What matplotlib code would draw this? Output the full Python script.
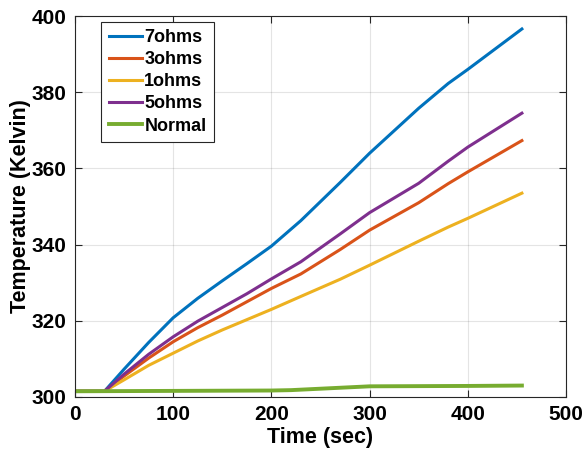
import numpy as np
import matplotlib
matplotlib.use('Agg')
import matplotlib.pyplot as plt

plt.rcParams['font.family'] = ['Liberation Sans', 'DejaVu Sans']
plt.rcParams['font.weight'] = 'bold'

# temperature readings (Kelvin) against time (sec)
t = [0, 30, 50, 75, 100, 125, 150, 175, 200, 230, 270, 300, 350, 380, 400, 455]
T_7ohms = [301.5, 301.5, 307.3, 314.3, 320.8, 325.9, 330.5, 335.0, 339.6, 346.3, 356.3, 364.0, 375.8, 382.3, 386.0, 396.6]
T_3ohms = [301.5, 301.5, 305.5, 310.2, 314.5, 318.2, 321.5, 325.0, 328.5, 332.3, 338.7, 343.8, 351.0, 356.0, 359.1, 367.3]
T_1ohms = [301.5, 301.5, 304.5, 308.3, 311.5, 314.7, 317.6, 320.3, 323.0, 326.4, 330.9, 334.6, 340.9, 344.6, 346.9, 353.5]
T_5ohms = [301.5, 301.5, 306.0, 311.2, 315.8, 319.9, 323.5, 327.1, 331.0, 335.5, 342.8, 348.4, 356.1, 361.9, 365.6, 374.5]
t_normal = [0, 100, 200, 220, 260, 300, 400, 455]
T_normal = [301.5, 301.6, 301.7, 301.8, 302.3, 302.8, 302.9, 303.0]

fig = plt.figure(figsize=(5.83, 4.55), dpi=100)
ax = fig.add_axes([0.1286, 0.1275, 0.8424, 0.8373])

lw = 2.2
ax.plot(t, T_7ohms, color='#0072BD', lw=lw, label='7ohms')
ax.plot(t, T_3ohms, color='#D95319', lw=lw, label='3ohms')
ax.plot(t, T_1ohms, color='#EDB120', lw=lw, label='1ohms')
ax.plot(t, T_5ohms, color='#7E2F8E', lw=lw, label='5ohms')
ax.plot(t_normal, T_normal, color='#77AC30', lw=lw + 0.6, label='Normal')

ax.set_xlim(0, 500)
ax.set_ylim(300, 400)
ax.set_xticks([0, 100, 200, 300, 400, 500])
ax.set_yticks([300, 320, 340, 360, 380, 400])
ax.grid(True, color='#262626', alpha=0.12, lw=0.8)
ax.tick_params(direction='in', length=5, width=0.8, color='#262626',
               labelsize=15, top=True, right=True, pad=6)
for lab in ax.get_xticklabels() + ax.get_yticklabels():
    lab.set_fontweight('bold')
for s in ax.spines.values():
    s.set_color('#262626')
    s.set_linewidth(0.8)

ax.set_xlabel('Time (sec)', fontsize=15.5, fontweight='bold', labelpad=2)
ax.set_ylabel('Temperature (Kelvin)', fontsize=15.5, fontweight='bold', labelpad=0.5)

leg = ax.legend(loc='upper left', bbox_to_anchor=(0.054, 0.985), borderaxespad=0,
                prop={'weight': 'bold', 'size': 13}, handlelength=1.8,
                labelspacing=0.28, handletextpad=0.15, borderpad=0.42,
                fancybox=False, framealpha=1, edgecolor='#262626')
leg.get_frame().set_linewidth(0.8)

fig.savefig('out.png', dpi=100)
